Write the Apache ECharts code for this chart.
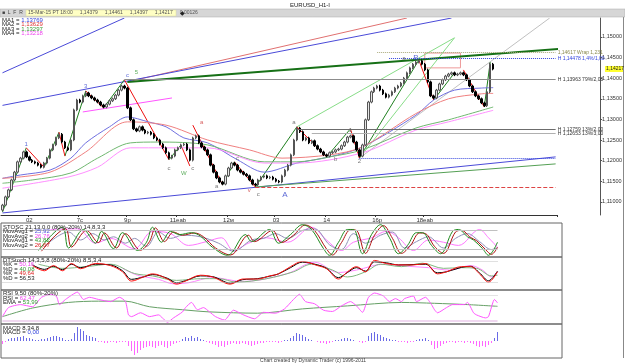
<!DOCTYPE html>
<html>
<head>
<meta charset="utf-8">
<script src="https://cdn.jsdelivr.net/npm/echarts@6.0.0/dist/echarts.min.js"></script>
<style>
  html, body { margin: 0; padding: 0; background: #fff; }
  #chart { width: 625px; height: 364px; }
</style>
</head>
<body>
<div id="chart"></div>
<script>
// ---- price data (one close per bar, open = previous close) ----
const firstOpen = 1.1080;
const closes = [
  1.1092, 1.1112, 1.1129, 1.1153, 1.1172, 1.1197, 1.1206, 1.1221, 1.1209, 1.1201,
  1.1197, 1.1194, 1.1189, 1.1184, 1.1194, 1.1206, 1.1226, 1.1238, 1.1255, 1.1264,
  1.1245, 1.1231, 1.1226, 1.1250, 1.1323, 1.1347, 1.1342, 1.1357, 1.1364, 1.1357,
  1.1352, 1.1347, 1.1342, 1.1335, 1.1330, 1.1337, 1.1345, 1.1350, 1.1359, 1.1371,
  1.1381, 1.1376, 1.1328, 1.1299, 1.1277, 1.1272, 1.1282, 1.1274, 1.1267, 1.1269,
  1.1264, 1.1255, 1.1250, 1.1240, 1.1231, 1.1219, 1.1206, 1.1211, 1.1226, 1.1231,
  1.1238, 1.1240, 1.1226, 1.1201, 1.1255, 1.1260, 1.1243, 1.1233, 1.1226, 1.1214,
  1.1189, 1.1172, 1.1158, 1.1148, 1.1143, 1.1163, 1.1182, 1.1194, 1.1189, 1.1177,
  1.1172, 1.1167, 1.1163, 1.1153, 1.1143, 1.1141, 1.1153, 1.1160, 1.1163, 1.1158,
  1.1160, 1.1155, 1.1150, 1.1148, 1.1163, 1.1177, 1.1189, 1.1214, 1.1250, 1.1279,
  1.1270, 1.1250, 1.1255, 1.1243, 1.1248, 1.1236, 1.1228, 1.1221, 1.1214, 1.1211,
  1.1219, 1.1221, 1.1226, 1.1228, 1.1236, 1.1245, 1.1257, 1.1260, 1.1245, 1.1226,
  1.1211, 1.1238, 1.1299, 1.1342, 1.1367, 1.1376, 1.1381, 1.1371, 1.1362, 1.1354,
  1.1359, 1.1367, 1.1376, 1.1381, 1.1388, 1.1400, 1.1413, 1.1425, 1.1434, 1.1439,
  1.1442, 1.1434, 1.1420, 1.1391, 1.1357, 1.1352, 1.1371, 1.1386, 1.1396, 1.1405,
  1.1410, 1.1413, 1.1408, 1.1410, 1.1413, 1.1408, 1.1396, 1.1381, 1.1367, 1.1357,
  1.1350, 1.1340, 1.1333, 1.1367, 1.1434, 1.1422
];
const wick = 0.0003;

// moving averages [bar, price]
const ma1 = [[0,1.1157],[6,1.1165],[16,1.1177],[23,1.1206],[28,1.1243],[36,1.1282],[42,1.1306],[49,1.1294],[55,1.1282],[61,1.1255],[69,1.1243],[79,1.1202],[88,1.1172],[99,1.1194],[110,1.1209],[121,1.1233],[139,1.1310],[145,1.1347],[152,1.1371],[161,1.1376],[165,1.1377]];
const ma2 = [[0,1.1157],[16,1.1172],[28,1.1221],[42,1.1294],[55,1.1286],[69,1.1250],[83,1.1226],[94,1.1206],[110,1.1214],[121,1.1233],[139,1.1314],[150,1.1350],[161,1.1362],[165,1.1363]];
const ma3 = [[0,1.1145],[10,1.1153],[23,1.1170],[32,1.1206],[43,1.1243],[52,1.1245],[69,1.1238],[88,1.1197],[99,1.1197],[110,1.1209],[121,1.1226],[139,1.1279],[150,1.1299],[165,1.1330]];
const ma4 = [[0,1.1133],[22,1.1160],[32,1.1184],[43,1.1231],[69,1.1231],[88,1.1194],[99,1.1194],[121,1.1219],[139,1.1274],[150,1.1294],[165,1.1322]];

// swing legs
const upLegs = [
  [[0,1.1075],[7.5,1.1231]], [[13.5,1.1184],[19,1.1269]], [[21,1.1211],[28,1.1369]],
  [[34,1.1328],[40.5,1.1396]], [[55.5,1.1202],[59.5,1.1238]], [[74,1.1141],[77.5,1.1197]],
  [[85,1.1136],[99,1.1282]], [[108.5,1.1209],[117,1.1277]], [[120,1.1206],[140,1.1444]],
  [[145,1.1347],[151.5,1.1413]], [[162,1.1330],[164,1.1439]]
];
const downLegs = [
  [[7.5,1.1231],[13.5,1.1184]], [[19,1.1269],[21,1.1211]], [[28,1.1369],[34,1.1328]],
  [[40.5,1.1396],[55.5,1.1202]], [[59.5,1.1238],[63,1.1187]], [[64,1.1286],[74,1.1141]],
  [[77.5,1.1197],[85,1.1136]], [[99,1.1282],[108.5,1.1209]], [[117,1.1277],[120,1.1206]],
  [[140,1.1444],[145,1.1347]], [[155,1.1420],[162,1.1330]]
];
// trend lines
const thickTrend = [[41.5,1.1391],[186.8,1.1471]];
const redTrend = [[41.5,1.1391],[135.7,1.1546]];
const blueTrends = [[[0,1.1334],[150.9,1.1546]], [[0,1.1413],[40.6,1.1546]], [[0,1.1073],[186,1.1209]]];
const greenLow = [[85,1.1136],[186,1.1192]];
const pinkTrend = [[27,1.1318],[57,1.1352]];
const lightGreen = [[[99,1.1282],[151.5,1.1498]], [[120,1.1206],[151.5,1.1498]]];
const grayTrend = [[120,1.1206],[183.8,1.1546]];
const box = [[142,1.1461],[153.5,1.1425]];

// horizontal levels
const levelPrice = [1.14617, 1.14478, 1.13963, 1.12759, 1.12653, 1.1206, 1.1136];
const levelFrom  = [126, 130, 41, 99, 104, 120, 85];
const levelText  = ['1,14617 Wrap 1,231', 'H 1,14478 1,4%/1,00', 'H 1,13963 79%/2,00', 'H 1,12759 13%/2,00', 'H 1,12653 13%/3,00', '', ''];

// wave labels
const waveText = ['1','3','c','5','a','c','W','c','a','c','v','c','A','a','b','1','2','a','B'];
const wavePos = [[7.5,1.1240],[28,1.1379],[41.8,1.1408],[44.8,1.1415],[66.8,1.1294],[55.8,1.1182],[60.5,1.1170],[63.8,1.1182],[72.2,1.1138],[78.5,1.1206],[83.2,1.1129],[85.5,1.1119],[94.8,1.1117],[98.2,1.1294],[111.5,1.1202],[116.8,1.1274],[119.8,1.1197],[134.5,1.1449],[138.5,1.1449]];

// axes
const priceTicks = [1.110, 1.115, 1.120, 1.125, 1.130, 1.135, 1.140, 1.145, 1.150];
const timeTickIdx = [9, 26, 42, 59, 76, 92, 109, 126, 142];
const timeTickText = ['02', '7c', '9p', '11eab', '12м', '03', '14', '16p', '18eab'];

// oscillators [bar, value]
const stGreen = [[12,17],[20,90],[22,25],[27,83],[31,40],[33,77],[37,23],[40,73],[45,17],[48,43],[50,90],[53,43],[56,77],[59,67],[63,73],[66,62],[70,27],[75,2],[81,67],[83,45],[89,83],[92,40],[96,67],[100,98],[103,83],[107,23],[109,2],[112,43],[115,83],[117,83],[120,7],[123,67],[126,98],[129,57],[132,7],[135,33],[138,73],[140,73],[143,33],[146,7],[150,77],[152,83],[155,60],[157,50],[160,23],[162,2],[165,43]];
const stRed = [[13,15],[21,85],[23,28],[28,80],[32,42],[34,72],[38,25],[41,70],[46,18],[49,45],[51,88],[54,45],[57,75],[60,65],[64,72],[67,60],[71,25],[76,3],[82,65],[84,45],[90,80],[93,42],[97,65],[101,97],[104,80],[108,22],[110,3],[113,42],[116,82],[118,80],[121,8],[124,65],[127,95],[130,55],[133,8],[136,33],[139,72],[141,70],[144,30],[147,8],[151,75],[153,80],[156,58],[158,48],[161,20],[163,5],[165,27]];
const stGray = [[14,30],[22,75],[26,50],[30,70],[34,50],[37,60],[41,40],[44,55],[48,30],[52,75],[56,55],[60,65],[66,60],[72,40],[77,15],[83,50],[87,55],[91,70],[95,55],[100,80],[104,85],[109,35],[113,20],[117,70],[121,40],[126,65],[130,75],[134,25],[138,45],[142,60],[147,25],[151,55],[155,70],[159,45],[163,20],[165,26]];
const stPink = [[16,83],[25,85],[31,40],[36,55],[44,23],[50,77],[56,70],[62,33],[68,45],[73,57],[77,17],[82,40],[88,57],[95,43],[103,90],[108,50],[113,17],[117,43],[123,57],[128,77],[132,57],[137,17],[142,50],[147,43],[152,33],[159,83],[162,57],[165,27]];

const dtRed = [[10,68],[14,53],[17,68],[20,53],[23,74],[26,59],[31,74],[36,68],[40,50],[43,23],[47,35],[50,44],[55,29],[58,14],[61,23],[66,40],[70,35],[76,14],[80,29],[85,29],[89,38],[92,44],[96,65],[100,80],[105,68],[108,59],[112,29],[115,50],[118,65],[121,50],[124,83],[128,74],[132,70],[137,70],[141,74],[145,44],[148,50],[153,65],[156,65],[159,44],[162,20],[165,50]];
const dtBlack = [[10,70],[14,57],[17,66],[20,56],[23,72],[26,62],[31,72],[36,70],[40,53],[43,28],[47,35],[50,42],[55,31],[58,18],[61,24],[66,38],[70,36],[76,17],[80,27],[85,30],[89,37],[92,44],[96,62],[100,78],[105,70],[108,60],[112,33],[115,48],[118,62],[121,52],[124,79],[128,76],[132,70],[137,71],[141,72],[145,47],[148,50],[153,63],[156,66],[159,47],[162,24],[165,52]];
const dtGreen = [[12,72],[20,60],[28,65],[36,72],[44,45],[50,38],[58,25],[66,30],[72,30],[78,20],[88,30],[97,50],[103,72],[110,55],[115,35],[121,50],[126,72],[133,65],[140,75],[147,60],[153,62],[158,60],[163,38],[165,40]];
const dtPink = [[40,60],[45,40],[52,28],[57,15],[62,18],[70,33],[80,22],[95,45],[104,78],[112,48],[118,55],[127,72],[135,66],[142,62],[149,55],[156,68],[160,55],[163,35],[165,50]];

const rsi = [[0,30],[2,51],[6,58],[10,53],[13,75],[16,82],[18,77],[19,58],[21,70],[25,87],[27,70],[29,75],[32,70],[36,65],[39,75],[41,65],[42,34],[43,30],[46,39],[49,30],[52,34],[55,17],[57,27],[60,41],[61,51],[63,63],[65,46],[67,51],[69,41],[71,30],[74,22],[77,45],[80,35],[84,25],[87,40],[91,38],[94,48],[97,70],[99,82],[101,65],[104,60],[107,45],[110,42],[113,55],[116,65],[118,55],[120,40],[122,75],[124,85],[127,78],[129,65],[131,72],[133,65],[134,72],[137,78],[138,65],[141,75],[143,58],[144,46],[145,39],[148,51],[150,58],[154,58],[155,63],[157,39],[158,34],[161,27],[162,30],[164,70],[165,62]];
const rsiEma = [[0,30],[10,50],[22,63],[32,66],[41,66],[49,53],[60,46],[69,41],[85,38],[100,48],[115,55],[133,63],[144,61],[155,58],[165,54]];

const macd = [
  -3, -1, 2, 3, 3, 4, 4, 5, 3, 3, 2, 1, 1, 2, 2, 3, 4, 5, 5, 4, 3, 1, 1, 2,
  8, 14, 12, 10, 6, 5, 4, 3, -1, -1, -2, -2, -1, -1, -2, -1, -1, -1,
  -5, -10, -14, -12, -9, -7, -6, -5, -6, -7, -5, -4, -6, -7, -5, -3, -2, -1,
  2, 4, 3, 5, 3, 4, 2, 1, -1, -2, -3, -4, -6, -5, -6, -4, -3,
  -2, -3, -3, -2, -3, -4, -5, -4, -3, -2, -2, -1, -1, -1, -1, -2, -1, 1, 1,
  3, 5, 8, 7, 6, 4, 2, 1, 0, -1, -2, -2, -3, -2, -1, 1, 1, 2, 3, 3, 2, 1, 0,
  -1, -2, -1, 5, 8, 9, 7, 6, 4, 3, 2, 1, 1, -1, -1, -1, -2, -1, -1, 1, 2,
  2, 3, 1, -4, -8, -7, -5, -3, -2, -1, -1, -2, -1, -1, -2, -1, -2,
  -3, -5, -6, -5, -6, -4, -2, 3, 9
];

// ---- build ----
const N = 187;
const cats = Array.from({ length: N }, (_, i) => String(i));
const ohlc = closes.map((c, i) => {
  const o = i === 0 ? firstOpen : closes[i - 1];
  return [o, c, Math.min(o, c) - wick, Math.max(o, c) + wick];
});
const FONT = 'Liberation Sans';
const fmtPrice = v => v.toFixed(5).replace('.', ',');
const seg = (coords, color, width, type) => ({ coords, lineStyle: { color, width: width || 1, type: type || 'solid', opacity: 1 } });

const levelStyle = [
  { color: '#a8a878', type: 'dotted', label: '#8a8a50' },
  { color: '#3344dd', type: 'dotted', label: '#3344dd' },
  { color: '#8c8c8c', type: 'solid', label: '#333' },
  { color: '#6c6c6c', type: 'solid', label: '#333' },
  { color: '#b0b0b0', type: 'solid', label: '#333' },
  { color: '#3344dd', type: 'dotted', label: '#333' },
  { color: '#dd4444', type: 'dashed', label: '#333' }
];
const waveColor = ['#3344cc','#3344cc','#3344cc','#339933','#cc3333','#555','#339933','#555','#555','#555','#cc3333','#555','#3344cc','#555','#555','#555','#555','#555','#3344cc'];

const chart = echarts.init(document.getElementById('chart'), null, { renderer: 'canvas' });

const grids = [
  { left: 1, top: 18, width: 561, height: 197 },
  { left: 1, top: 223, width: 561, height: 34, show: true, borderColor: '#666', borderWidth: 1 },
  { left: 1, top: 257, width: 561, height: 33, show: true, borderColor: '#666', borderWidth: 1 },
  { left: 1, top: 290, width: 561, height: 34, show: true, borderColor: '#666', borderWidth: 1 },
  { left: 1, top: 324, width: 561, height: 34, show: true, borderColor: '#666', borderWidth: 1 }
];

const xAxes = grids.map((g, k) => ({
  type: 'category', gridIndex: k, data: cats, boundaryGap: true,
  axisLine: { show: k === 0, lineStyle: { color: '#333' } },
  axisTick: { show: k === 0, interval: i => timeTickIdx.includes(i), length: 2, lineStyle: { color: '#333' } },
  axisLabel: {
    show: k === 0, interval: i => timeTickIdx.includes(i),
    formatter: (v, i) => timeTickText[timeTickIdx.indexOf(i)] || '',
    fontSize: 6, fontFamily: FONT, color: '#333', margin: 2
  },
  splitLine: { show: false }
}));

const yAxes = [
  {
    type: 'value', gridIndex: 0, position: 'right', offset: 43, min: 1.1068, max: 1.1546,
    axisLine: { show: true, lineStyle: { color: '#555' } },
    axisTick: { show: true, customValues: priceTicks, length: 2, lineStyle: { color: '#555' } },
    axisLabel: { customValues: priceTicks, formatter: fmtPrice, fontSize: 5.5, fontFamily: FONT, color: '#333', margin: 2 },
    splitLine: { show: false }
  },
  { type: 'value', gridIndex: 1, min: -3.3, max: 103.3, show: false },
  { type: 'value', gridIndex: 2, min: -3, max: 93, show: false },
  { type: 'value', gridIndex: 3, min: 12.8, max: 92, show: false },
  { type: 'value', gridIndex: 4, min: -17, max: 17, show: false }
];

const line = (data, color, gi, opts) => Object.assign({
  type: 'line', xAxisIndex: gi, yAxisIndex: gi, data, showSymbol: false, symbol: 'none',
  smooth: 0.35, lineStyle: { color, width: 1 }, silent: true, animation: false, z: 3
}, opts || {});

const refLines = (gi, vals, color, type) => ({
  type: 'line', xAxisIndex: gi, yAxisIndex: gi, data: [], silent: true,
  markLine: {
    symbol: 'none', silent: true, animation: false, label: { show: false },
    lineStyle: { color, type, width: 1 },
    data: vals.map(v => [{ coord: [0, v] }, { coord: [165, v] }])
  }
});

// one markLine series per level so each keeps its own colour, dash and label
const levelSeries = levelPrice.map((p, k) => ({
  type: 'line', xAxisIndex: 0, yAxisIndex: 0, data: [], silent: true, z: 2,
  markLine: {
    symbol: 'none', silent: true, animation: false,
    lineStyle: { color: levelStyle[k].color, type: levelStyle[k].type, width: 1 },
    label: { show: levelText[k] !== '', formatter: levelText[k], position: 'end', fontSize: 5, fontFamily: FONT, color: levelStyle[k].label, distance: 2 },
    data: [[{ coord: [levelFrom[k], p] }, { coord: [186, p] }]]
  }
}));

const series = [
  // trend lines drawn under candles
  {
    type: 'lines', coordinateSystem: 'cartesian2d', xAxisIndex: 0, yAxisIndex: 0, silent: true, z: 1,
    lineStyle: { opacity: 1 },
    data: [
      seg(redTrend, '#e07070'),
      ...blueTrends.map(c => seg(c, '#4a4ad8')),
      seg(greenLow, '#55a055'),
      seg(pinkTrend, '#ff55ff'),
      ...lightGreen.map(c => seg(c, '#88dd88')),
      seg(grayTrend, '#c0c0c0'),
      ...upLegs.map(c => seg(c, '#1f801f')),
      ...downLegs.map(c => seg(c, '#ee1111')),
      seg(thickTrend, '#167016', 2)
    ]
  },
  ...levelSeries,
  line(ma1, '#7070e0', 0, { smooth: 0.3 }),
  line(ma2, '#f08080', 0, { smooth: 0.3 }),
  line(ma3, '#70b870', 0, { smooth: 0.3 }),
  line(ma4, '#ff90ff', 0, { smooth: 0.3 }),
  {
    type: 'candlestick', xAxisIndex: 0, yAxisIndex: 0, data: ohlc, barWidth: 2, silent: true, z: 4,
    itemStyle: { color: '#e6e6e6', color0: '#000', borderColor: '#555', borderColor0: '#000', borderWidth: 1 },
    markArea: {
      silent: true,
      itemStyle: { color: 'rgba(0,0,0,0)', borderColor: '#ee9999', borderWidth: 1 },
      data: [[{ coord: box[0] }, { coord: box[1] }]]
    }
  },
  {
    type: 'scatter', xAxisIndex: 0, yAxisIndex: 0, symbolSize: 0, silent: true, z: 6,
    data: wavePos.map((p, k) => ({
      value: p,
      label: { show: true, formatter: waveText[k], color: waveColor[k], fontSize: waveText[k] === 'A' || waveText[k] === 'B' ? 8 : 6, fontFamily: FONT, position: 'inside' }
    }))
  },
  // STOSC
  refLines(1, [80, 20], '#c0c0c0', 'solid'),
  line(stPink, '#ff77ff', 1),
  line(stGray, '#9090b8', 1),
  line(stRed, '#b01010', 1),
  line(stGreen, '#1f8a1f', 1),
  // DTStoch
  refLines(2, [80, 20], '#c0c0c0', 'dotted'),
  line(dtPink, '#ff88ff', 2),
  line(dtGreen, '#80b880', 2),
  line(dtBlack, '#000', 2),
  line(dtRed, '#ff1010', 2),
  // RSI
  refLines(3, [80], '#c8c8c8', 'dotted'),
  {
    type: 'line', xAxisIndex: 3, yAxisIndex: 3, data: [], silent: true,
    markLine: { symbol: 'none', silent: true, animation: false, label: { show: false },
      lineStyle: { color: '#f0d8f0', width: 2, type: 'solid' }, data: [[{ coord: [0, 20] }, { coord: [165, 20] }]] }
  },
  line(rsiEma, '#66a066', 3, { smooth: 0.3 }),
  line(rsi, '#ff55ff', 3, { smooth: 0.2 }),
  // MACD
  {
    type: 'bar', xAxisIndex: 4, yAxisIndex: 4, barWidth: 1, silent: true,
    data: macd.map((v, i) => ({ value: [i, v], itemStyle: { color: v >= 0 ? '#6a6ae6' : '#ff66ff' } }))
  }
];

const txt = (text, x, y, extra) => ({
  type: 'text', x, y, silent: true, z: 100,
  style: Object.assign({ text, font: '6px ' + FONT, fill: '#222', textVerticalAlign: 'middle' }, extra || {})
});
const pair = (k, v, color, x, y) => txt('{k|' + k + '}{v|' + v + '}', x, y, {
  rich: { k: { fill: '#222', font: '6px ' + FONT }, v: { fill: color, font: '6px ' + FONT } }
});

const graphic = [
  { type: 'rect', shape: { x: 0, y: 9, width: 625, height: 8 }, style: { fill: '#d6d6d6', stroke: '#aaa', lineWidth: 0.5 }, z: 90, silent: true },
  { type: 'rect', shape: { x: 26, y: 10, width: 150, height: 6 }, style: { fill: '#ffffc4', stroke: '#d8d8a0', lineWidth: 0.5 }, z: 95, silent: true },
  txt('EURUSD_H1-I', 310, 5, { textAlign: 'center' }),
  txt('\u25A0  L  F  R', 2, 13, { font: '5px ' + FONT, fill: '#444' }),
  txt('15-Mar-15 PT 18:00     1,14379     1,14461     1,14397     1,14217     0,00126', 28, 13, { font: '5px ' + FONT, fill: '#555' }),
  txt('\u25C6', 180, 13, { font: '6px ' + FONT, fill: '#222' }),
  pair('MA1 = ', '1,13769', '#3344dd', 2, 20),
  pair('MA2 = ', '1,13629', '#dd3333', 2, 24.5),
  pair('MA3 = ', '1,13297', '#339933', 2, 29),
  pair('MA4 = ', '1,13218', '#ee44ee', 2, 33.5),
  { type: 'rect', shape: { x: 605, y: 66, width: 18, height: 6 }, style: { fill: '#ffff30' }, z: 95, silent: true },
  txt('1,14217', 606, 69, { font: '5px ' + FONT }),
  txt('STOSC 21,13,0,0 (80%-20%) 14,8,3,3', 3, 227),
  pair('MovAvg1 = ', '25,92', '#5555dd', 3, 231.5),
  pair('MovAvg2 = ', '26,76', '#ee44ee', 3, 236),
  pair('MovAvg1 = ', '43,82', '#339933', 3, 240.5),
  pair('MovAvg2 = ', '26,67', '#dd2222', 3, 245),
  txt('DTStoch 14,3,5,8 (80%-20%) 8,5,3,4', 3, 260),
  pair('%K = ', '50,16', '#ee44ee', 3, 264.5),
  pair('%D = ', '40,08', '#339933', 3, 269),
  pair('%K = ', '49,64', '#dd2222', 3, 273.5),
  pair('%D = ', '56,53', '#222', 3, 278),
  txt('RSI 9,50 (80%-20%)', 3, 293.5),
  pair('RSI = ', '62,47', '#ee44ee', 3, 298),
  pair('EMA = ', '53,99', '#339933', 3, 302.5),
  txt('MACD 8,34,8', 3, 328),
  pair('MACD = ', '0,00', '#3344dd', 3, 332.5),
  txt('Chart created by Dynamic Trader (c) 1996-2011', 313, 361, { textAlign: 'center', font: '5px ' + FONT, fill: '#444' }),
  { type: 'line', shape: { x1: 623.5, y1: 17, x2: 623.5, y2: 358 }, style: { stroke: '#888', lineWidth: 1 }, silent: true }
];

chart.setOption({
  animation: false,
  backgroundColor: '#fff',
  grid: grids,
  xAxis: xAxes,
  yAxis: yAxes,
  series,
  graphic
});
window.addEventListener('resize', () => chart.resize());
</script>
</body>
</html>
